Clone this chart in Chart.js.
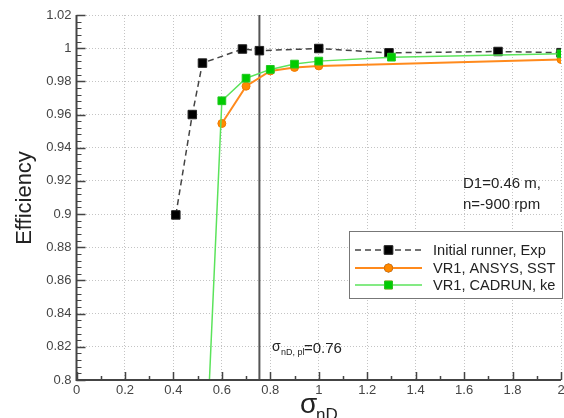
<!DOCTYPE html>
<html>
<head>
<meta charset="utf-8">
<script src="https://cdn.jsdelivr.net/npm/chart.js@4/dist/chart.umd.min.js"></script>
<style>
  html, body { margin: 0; padding: 0; background: #fff; }
  canvas { display: block; }
</style>
</head>
<body>
<canvas id="effChart" width="564" height="418"></canvas>
<script>
// Values
const expX = [0.41, 0.478, 0.52, 0.685, 0.755, 1.0, 1.29, 1.74, 2.0];
const expY = [0.8995, 0.960, 0.991, 0.9995, 0.9985, 0.9998, 0.9972, 0.998, 0.9973];

const sstX = [0.6, 0.7, 0.8, 0.9, 1.0, 2.0];
const sstY = [0.9546, 0.9771, 0.9863, 0.9884, 0.9893, 0.9932];

const keX = [0.5, 0.6, 0.7, 0.8, 0.9, 1.0, 1.3, 2.0];
const keY = [0.64, 0.9683, 0.9819, 0.9872, 0.9904, 0.9922, 0.9946, 0.9966];

const sigmaPlX = [0.755, 0.755];
const sigmaPlY = [0.8, 1.02];

const xTicks = [0, 0.2, 0.4, 0.6, 0.8, 1, 1.2, 1.4, 1.6, 1.8, 2];
const yTicks = [0.8, 0.82, 0.84, 0.86, 0.88, 0.9, 0.92, 0.94, 0.96, 0.98, 1, 1.02];

const legendLabels = ['Initial runner, Exp', 'VR1, ANSYS, SST', 'VR1, CADRUN, ke'];

const FONT = "'Liberation Sans', Arial, sans-serif";
const toPts = (xs, ys) => xs.map((x, i) => ({ x: x, y: ys[i] }));
const fmt = v => String(+(+v).toFixed(3));

// axes, inward ticks, titles, annotations and the boxed legend
const overlay = {
  id: 'overlay',
  afterDraw(chart) {
    const ctx = chart.ctx;
    const xs = chart.scales.x, ys = chart.scales.y;
    const a = chart.chartArea;
    ctx.save();

    // left / bottom axes
    ctx.strokeStyle = '#444';
    ctx.lineWidth = 2;
    ctx.beginPath();
    ctx.moveTo(a.left, a.top);
    ctx.lineTo(a.left, a.bottom);
    ctx.lineTo(a.right, a.bottom);
    ctx.stroke();

    // inward ticks
    ctx.lineWidth = 1.5;
    ctx.beginPath();
    xTicks.forEach(v => {
      const px = Math.round(xs.getPixelForValue(v)) + 0.5;
      ctx.moveTo(px, a.bottom); ctx.lineTo(px, a.bottom - 8);
    });
    for (let i = 0; i < xTicks.length - 1; i++) {
      const px = Math.round(xs.getPixelForValue((xTicks[i] + xTicks[i + 1]) / 2)) + 0.5;
      ctx.moveTo(px, a.bottom); ctx.lineTo(px, a.bottom - 4);
    }
    yTicks.forEach(v => {
      const py = Math.round(ys.getPixelForValue(v)) + 0.5;
      ctx.moveTo(a.left, py); ctx.lineTo(a.left + 9, py);
    });
    ctx.stroke();
    ctx.lineWidth = 1;
    ctx.beginPath();
    for (let i = 0; i < yTicks.length - 1; i++) {
      for (let k = 1; k < 5; k++) {
        const v = yTicks[i] + (yTicks[i + 1] - yTicks[i]) * k / 5;
        const py = Math.round(ys.getPixelForValue(v)) + 0.5;
        ctx.moveTo(a.left, py); ctx.lineTo(a.left + 5, py);
      }
    }
    ctx.stroke();

    // axis titles
    ctx.fillStyle = '#222';
    ctx.save();
    ctx.translate(25, 198);
    ctx.rotate(-Math.PI / 2);
    ctx.font = '22px ' + FONT;
    ctx.textAlign = 'center';
    ctx.textBaseline = 'middle';
    ctx.fillText('Efficiency', 0, 0);
    ctx.restore();

    ctx.textAlign = 'left';
    ctx.textBaseline = 'alphabetic';
    ctx.font = '28px ' + FONT;
    ctx.fillText('\u03c3', 300, 413);
    ctx.font = '17px ' + FONT;
    ctx.fillText('nD', 316, 420);

    // parameter note
    ctx.fillStyle = '#222';
    ctx.font = '15px ' + FONT;
    ctx.fillText('D1=0.46 m,', 463, 188);
    ctx.fillText('n=-900 rpm', 463, 209);

    // sigma_pl note
    ctx.font = '14px ' + FONT;
    ctx.fillText('\u03c3', 272, 351);
    ctx.font = '9px ' + FONT;
    ctx.fillText('nD, pl', 281, 355);
    ctx.font = '15px ' + FONT;
    ctx.fillText('=0.76', 304, 353);

    // legend box
    const lx = 349, ly = 231, lw = 213, lh = 67;
    ctx.fillStyle = '#fff';
    ctx.fillRect(lx, ly, lw, lh);
    ctx.strokeStyle = '#777';
    ctx.lineWidth = 1;
    ctx.strokeRect(lx + 0.5, ly + 0.5, lw, lh);
    const rows = [250, 268, 285];
    legendLabels.forEach((label, i) => {
      const ds = chart.data.datasets[i];
      const y = rows[i];
      ctx.save();
      ctx.strokeStyle = ds.borderColor;
      ctx.lineWidth = ds.borderWidth;
      ctx.setLineDash(ds.borderDash || []);
      ctx.beginPath();
      ctx.moveTo(355, y); ctx.lineTo(422, y);
      ctx.stroke();
      ctx.restore();
      Chart.helpers.drawPoint(ctx, {
        pointStyle: ds.pointStyle,
        radius: ds.pointRadius,
        borderWidth: ds.pointBorderWidth
      }, 388.5, y);
      ctx.fillStyle = ds.pointBackgroundColor;
      ctx.strokeStyle = ds.pointBorderColor;
      ctx.lineWidth = ds.pointBorderWidth;
      ctx.fill();
      ctx.stroke();
      ctx.fillStyle = '#222';
      ctx.font = '14.6px ' + FONT;
      ctx.textBaseline = 'middle';
      ctx.fillText(label, 433, y + 1);
    });

    ctx.restore();
  }
};

const ctx = document.getElementById('effChart').getContext('2d');

new Chart(ctx, {
  type: 'line',
  data: {
    datasets: [
      {
        label: legendLabels[0],
        data: toPts(expX, expY),
        borderColor: '#444',
        borderWidth: 1.5,
        borderDash: [6, 4],
        pointStyle: 'rect',
        pointRadius: 6,
        pointBorderWidth: 1,
        pointBackgroundColor: '#000',
        pointBorderColor: '#222',
        order: 2
      },
      {
        label: legendLabels[1],
        data: toPts(sstX, sstY),
        borderColor: '#ff8a1c',
        borderWidth: 2,
        pointStyle: 'circle',
        pointRadius: 4,
        pointBorderWidth: 1,
        pointBackgroundColor: '#ff8a00',
        pointBorderColor: '#f07a00',
        order: 1
      },
      {
        label: legendLabels[2],
        data: toPts(keX, keY),
        borderColor: '#5be35b',
        borderWidth: 1.5,
        pointStyle: 'rect',
        pointRadius: 5.5,
        pointBorderWidth: 1,
        pointBackgroundColor: '#00cc00',
        pointBorderColor: '#22c822',
        order: 0
      },
      {
        label: 'sigma_pl',
        data: toPts(sigmaPlX, sigmaPlY),
        borderColor: '#555',
        borderWidth: 2,
        pointRadius: 0,
        order: 3
      }
    ]
  },
  options: {
    responsive: false,
    animation: false,
    layout: { autoPadding: false, padding: { top: 15, right: 3, left: 0, bottom: 0 } },
    plugins: {
      legend: { display: false },
      tooltip: { enabled: false }
    },
    elements: { line: { tension: 0 } },
    scales: {
      x: {
        type: 'linear',
        min: 0,
        max: 2,
        afterFit: s => { s.height = 38; s.paddingLeft = 0; s.paddingRight = 0; },
        afterBuildTicks: s => { s.ticks = xTicks.map(v => ({ value: v })); },
        grid: { color: '#c4c4c4', lineWidth: 1, drawTicks: false },
        border: { display: false, dash: [1, 2] },
        ticks: {
          padding: 3,
          color: '#444',
          font: { family: FONT, size: 13 },
          maxRotation: 0,
          callback: v => fmt(v)
        }
      },
      y: {
        type: 'linear',
        min: 0.8,
        max: 1.02,
        afterFit: s => { s.width = 76.5; s.paddingTop = 0; s.paddingBottom = 0; },
        afterBuildTicks: s => { s.ticks = yTicks.map(v => ({ value: v })); },
        grid: { color: '#c4c4c4', lineWidth: 1, drawTicks: false },
        border: { display: false, dash: [1, 2] },
        ticks: {
          padding: 5,
          color: '#444',
          font: { family: FONT, size: 13 },
          callback: v => fmt(v)
        }
      }
    }
  },
  plugins: [overlay]
});
</script>
</body>
</html>
